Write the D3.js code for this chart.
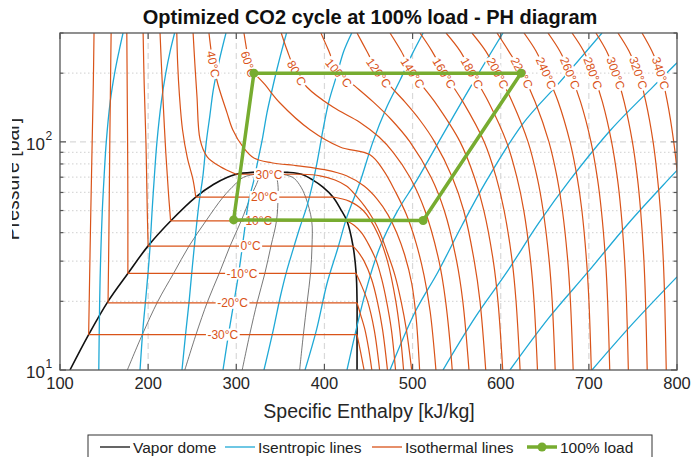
<!DOCTYPE html>
<html>
<head>
<meta charset="utf-8">
<script src="https://cdn.jsdelivr.net/npm/d3@7"></script>
<style>
  body { margin: 0; background: #fff; }
  text { font-family: "Liberation Sans", Arial, Helvetica, sans-serif; }
</style>
</head>
<body>
<svg id="chart" width="693" height="457"></svg>
<script>
// ---- data (h in kJ/kg, P in bar) ----
var xTicks = [100, 200, 300, 400, 500, 600, 700, 800];
var yMajor = [10, 100];
var yMinor = [20, 30, 40, 50, 60, 70, 80, 90, 200, 300];

var vaporDome = [[111.3,10],[132.5,14.3],[154.5,20],[177,26.5],[200,35],[225.5,45],[254,57.3],
  [274,65],[290,70],[300,72.1],[318,73.5],[338,73.8],[358,73.5],[374,72.1],[387,68],[398,63.5],
  [409.7,57.3],[418,51],[425.6,45],[432.4,35],[436,26.5],[437,20],[437,14.3],[437,10]];

var qualityLines = [
  [[176.4,10],[193.4,14.3],[211,20],[228.8,26.5],[246.5,35],[265.5,45],[285.1,57.3],[298.4,65],[308.4,70],[338,73.8]],
  [[241.6,10],[254.3,14.3],[267.5,20],[280.6,26.5],[293,35],[305.5,45],[316.3,57.3],[322.8,65],[326.8,70],[338,73.8]],
  [[306.7,10],[315.2,14.3],[324,20],[332.4,26.5],[339.4,35],[345.6,45],[347.4,57.3],[347.2,65],[345.2,70],[338,73.8]],
  [[371.9,10],[376.1,14.3],[380.5,20],[384.2,26.5],[385.9,35],[385.6,45],[378.6,57.3],[371.6,65],[363.6,70],[338,73.8]]
];

var isentropes = [
  [[144,10],[145,20],[146,30],[148,50],[150,70],[152.5,100],[157,150],[162,200],[167,250],[171.5,300]],
  [[190.8,10],[194,15],[197,20],[200,27],[202,34],[204.5,50],[207,70],[210,100],[215,150],[220,200],[225,250],[230,300]],
  [[238.4,10],[243,15],[246.5,20],[250,28],[254,40],[258,55],[262,70],[266,100],[270,130],[274,170],[281,230],[288.3,300]],
  [[284.9,10],[292,15],[297.5,20],[303,27],[309,40],[314,55],[320,68],[324.6,83],[330,105],[334.8,134],[340,165],[346,207],[352,255],[357,300]],
  [[331.4,10],[342,15],[350,21],[357,27],[364.3,33.6],[372,42],[380,52],[386,64],[391.6,81],[398.4,113],[405,150],[414,196],[422,250],[431,300]],
  [[378,10],[391,15],[403,24],[415,34],[425.6,47],[440,66],[455,100],[470,140],[486,187],[499,240],[512,300]],
  [[425.6,10],[447.2,22.4],[463,34.6],[482.3,49.3],[505,68.1],[533.4,106],[565.1,172.5],[602.6,300]],
  [[474.4,10],[503,18],[528.8,26.9],[556,43],[584.4,68.1],[625,120],[667.3,183.3],[714.9,300]],
  [[534.5,10],[571,17],[607.1,26.9],[643,44],[678.6,68.1],[725,113],[772.7,174.2],[800,222]],
  [[610.5,10],[655,17],[699,26.9],[745,44],[789.8,68.1],[800,75]],
  [[703.6,10],[750,16],[800,25.6]]
];

// subcritical isotherms
var subTemps = [-30, -20, -10, 0, 10, 20, 30];
var satP  = [14.3, 19.7, 26.5, 34.9, 45.0, 57.3, 72.1];
var satHL = [132.5, 154.5, 177, 200, 225.5, 254, 300];
var satHV = [437, 437, 436, 432.4, 425.6, 409.7, 374];
var liquidBranches = [
  [[132.5,14.3],[134.5,40],[136.5,100],[137.8,180],[138.6,300]],
  [[154.5,19.7],[155.5,40],[156.5,100],[157.3,180],[158,300]],
  [[177,26.5],[177,50],[176.7,100],[176.2,180],[175.8,300]],
  [[200,34.9],[199,50],[197.5,100],[195.5,180],[194.3,300]],
  [[225.5,45],[223,60],[220,90],[217,150],[215,220],[213.5,300]],
  [[254,57.3],[251,68],[244.5,85],[239,113],[235.5,160],[233.5,220],[232.5,300]],
  [[300,72.1],[281.5,78],[267,86],[259,102],[255.4,158],[253,220],[251,300]]
];
var vaporBranches = [
  [[437,14.3],[441,12],[445,10]],
  [[437,19.7],[441,17.5],[446,15],[450,12.5],[453.8,10]],
  [[436,26.5],[441,24],[449,20],[456.5,15],[462.6,10]],
  [[432.4,34.9],[438,33],[445,30],[453.5,25],[460,20],[466,15],[471.5,10]],
  [[425.6,45],[434,43],[442,40],[451,35],[459,30],[465,25],[470.5,20],[476,15],[480.7,10]],
  [[409.7,57.3],[428,55],[444,50],[460,40],[471.5,30],[481,20],[485.5,15],[489.8,10]],
  [[374,72.1],[395,71],[412,68],[425,64],[436,58],[446,52],[455,46],[463,40],[471,33],[480,26],[487,20],[493,15],[499,10]]
];

// supercritical isotherms (from 300 bar down to 10 bar)
var superTemps = [40, 60, 80, 100, 120, 140, 160, 180, 200, 220, 240, 260, 280, 300, 320, 340];
var superLines = [
  [[269,300],[271.5,250],[273.6,222],[279.3,178],[289.5,134],[296,113],[307.6,95],[320,85],[340,81],[370,78.5],[400,75.5],[425,71],[445,64],[460,56],[472,48],[482,40],[491,32],[499,24],[504,17],[508,10]],
  [[308.7,300],[312,250],[315,214],[332.6,178],[349.6,148],[383.6,113],[417.7,95],[451.7,87.7],[467,75],[481,60],[493,48],[504,36],[513,26],[520,18],[526.5,10]],
  [[351,300],[358,250],[366.6,207],[380,174],[409.7,142],[440,122],[462,105],[478,90],[497,70],[514,50],[530,30],[537.5,20],[545,10]],
  [[396,300],[405,250],[415,203],[435,175],[455,150],[476,125],[497,100],[521,70],[536,50],[550,30],[557,20],[564,10]],
  [[437,300],[448,250],[460.8,203],[475,175],[491,150],[508,125],[525,100],[545,70],[558,50],[570,30],[576.5,20],[583,10]],
  [[474.4,300],[487,250],[500.3,200],[525,150],[553.9,100],[570.1,70],[580.9,50],[591.6,30],[596.9,20],[602.3,10]],
  [[508.4,300],[522,250],[536,200],[557,150],[581.2,100],[594.8,70],[603.9,50],[613,30],[617.4,20],[622,10]],
  [[538,300],[554,250],[567.7,200],[586,150],[606.6,100],[618.3,70],[626.2,50],[633.9,30],[637.8,20],[641.7,10]],
  [[567.4,300],[583,250],[596.8,200],[613,150],[631,100],[641.3,70],[648.1,50],[655,30],[658.4,20],[661.8,10]],
  [[595.8,300],[609,250],[624.2,200],[639,150],[654.7,100],[663.9,70],[670,50],[676.1,30],[679.1,20],[682.2,10]],
  [[626.4,300],[640,250],[651.8,200],[665.2,150],[678.6,100],[686.7,70],[692.1,50],[697.4,30],[700.1,20],[702.8,10]],
  [[653.6,300],[667,250],[678.7,200],[690.5,150],[702.4,100],[709.5,70],[714.2,50],[719,30],[721.3,20],[723.7,10]],
  [[680.9,300],[694,250],[704.8,200],[715.3,150],[725.8,100],[732.2,70],[736.4,50],[740.6,30],[742.7,20],[744.8,10]],
  [[708,300],[720,250],[730.7,200],[740,150],[749.4,100],[755,70],[758.7,50],[762.5,30],[764.3,20],[766.2,10]],
  [[733,300],[745.5,250],[756.3,200],[764.6,150],[772.9,100],[777.8,70],[781.2,50],[784.5,30],[786.1,20],[787.8,10]],
  [[760.3,300],[771.5,250],[781.6,200],[789,150],[796.3,100],[800.8,70],[803.7,50],[806.7,30],[808.1,20],[809.6,10]]
];

// 100% load cycle
var cycleH = [320, 623, 512, 297, 320];
var cycleP = [200, 200, 45.2, 45.5, 200];

var legendNames = ["Vapor dome", "Isentropic lines", "Isothermal lines", "100% load"];

// ---- layout ----
var W = 693, H = 457;
var plot = { left: 60, right: 677, top: 33, bottom: 370 };
var cOrange = "#d95319", cCyan = "#1fa9d6", cGreen = "#77ac30", cAxis = "#555";

var svg = d3.select("#chart");
var x = d3.scaleLinear().domain([100, 800]).range([plot.left, plot.right]);
var y = d3.scaleLog().domain([10, 300]).range([plot.bottom, plot.top]);

svg.append("rect").attr("width", W).attr("height", H).attr("fill", "#fff");

svg.append("defs").append("clipPath").attr("id", "plotClip")
  .append("rect")
    .attr("x", plot.left).attr("y", plot.top)
    .attr("width", plot.right - plot.left).attr("height", plot.bottom - plot.top);

// grid
var grid = svg.append("g").attr("class", "grid");
grid.selectAll(".vgrid").data(xTicks.slice(1, -1)).enter().append("line")
  .attr("x1", function(d){ return x(d); }).attr("x2", function(d){ return x(d); })
  .attr("y1", plot.top).attr("y2", plot.bottom)
  .attr("stroke", "#d9d9d9").attr("stroke-width", 1.2).attr("stroke-dasharray", "6,4");
grid.append("line")
  .attr("x1", plot.left).attr("x2", plot.right)
  .attr("y1", y(100)).attr("y2", y(100))
  .attr("stroke", "#d9d9d9").attr("stroke-width", 1.2).attr("stroke-dasharray", "6,4");
grid.selectAll(".mgrid").data(yMinor.filter(function(d){ return d < 300; })).enter().append("line")
  .attr("x1", plot.left).attr("x2", plot.right)
  .attr("y1", function(d){ return y(d); }).attr("y2", function(d){ return y(d); })
  .attr("stroke", "#d9d9d9").attr("stroke-width", 1.2).attr("stroke-dasharray", "1.5,2.5");

var lines = svg.append("g").attr("clip-path", "url(#plotClip)");
var curve = d3.line()
  .x(function(d){ return x(d[0]); })
  .y(function(d){ return y(d[1]); })
  .curve(d3.curveCatmullRom.alpha(0.5));
var straight = d3.line()
  .x(function(d){ return x(d[0]); })
  .y(function(d){ return y(d[1]); });

// quality lines in the dome
lines.selectAll(".quality").data(qualityLines).enter().append("path")
  .attr("d", curve).attr("fill", "none")
  .attr("stroke", "#555").attr("stroke-width", 0.8);

// vapor dome
lines.append("path").datum(vaporDome)
  .attr("d", curve).attr("fill", "none")
  .attr("stroke", "#111").attr("stroke-width", 1.6);

// isentropes
lines.selectAll(".isentrope").data(isentropes).enter().append("path")
  .attr("d", curve).attr("fill", "none")
  .attr("stroke", cCyan).attr("stroke-width", 1.3);

// isotherms
var isoG = lines.append("g");
isoG.selectAll(".liq").data(liquidBranches).enter().append("path")
  .attr("d", curve).attr("fill", "none").attr("stroke", cOrange).attr("stroke-width", 1.2);
isoG.selectAll(".vap").data(vaporBranches).enter().append("path")
  .attr("d", curve).attr("fill", "none").attr("stroke", cOrange).attr("stroke-width", 1.2);
isoG.selectAll(".flat").data(subTemps).enter().append("path")
  .attr("d", function(d, i){ return straight([[satHL[i], satP[i]], [satHV[i], satP[i]]]); })
  .attr("fill", "none").attr("stroke", cOrange).attr("stroke-width", 1.2);
var superPaths = isoG.selectAll(".super").data(superLines).enter().append("path")
  .attr("d", curve).attr("fill", "none").attr("stroke", cOrange).attr("stroke-width", 1.2);

// isotherm labels (white box, inline)
var labelG = svg.append("g").attr("clip-path", "url(#plotClip)");
function addLabel(px, py, ang, txt) {
  var g = labelG.append("g").attr("transform", "translate(" + px + "," + py + ") rotate(" + ang + ")");
  var r = g.append("rect").attr("fill", "#fff");
  var t = g.append("text").attr("text-anchor", "middle").attr("dy", "0.36em")
    .attr("font-size", 12).attr("fill", cOrange).text(txt);
  var w = t.node().getComputedTextLength();
  r.attr("x", -w / 2 - 1.5).attr("y", -6).attr("width", w + 3).attr("height", 12);
}
subTemps.forEach(function(t, i){
  var hm = (satHL[i] + satHV[i]) / 2;
  addLabel(x(hm), y(satP[i]), 0, t + "°C");
});
superPaths.each(function(d, i){
  var node = this, L = node.getTotalLength();
  var ty = superTemps[i] < 80 ? 64 : 73;
  var best = 0, bd = 1e9;
  for (var l = 0; l <= L; l += 0.5) {
    var p = node.getPointAtLength(l);
    if (Math.abs(p.y - ty) < bd) { bd = Math.abs(p.y - ty); best = l; }
  }
  var c = node.getPointAtLength(best),
      a = node.getPointAtLength(Math.max(0, best - 4)),
      b = node.getPointAtLength(Math.min(L, best + 4));
  var ang = Math.atan2(b.y - a.y, b.x - a.x) * 180 / Math.PI;
  if (ang > 90) ang -= 180;
  if (ang < -90) ang += 180;
  addLabel(c.x, c.y, ang, superTemps[i] + "°C");
});

// cycle
var cyc = cycleH.map(function(h, i){ return [h, cycleP[i]]; });
var cycG = svg.append("g").attr("clip-path", "url(#plotClip)");
cycG.append("path").datum(cyc).attr("d", straight).attr("fill", "none")
  .attr("stroke", cGreen).attr("stroke-width", 3.5).attr("stroke-linejoin", "round");
cycG.selectAll("circle").data(cyc.slice(0, 4)).enter().append("circle")
  .attr("cx", function(d){ return x(d[0]); }).attr("cy", function(d){ return y(d[1]); })
  .attr("r", 4.5).attr("fill", cGreen);

// axes box and ticks
var ax = svg.append("g");
ax.append("rect").attr("x", plot.left).attr("y", plot.top)
  .attr("width", plot.right - plot.left).attr("height", plot.bottom - plot.top)
  .attr("fill", "none").attr("stroke", cAxis).attr("stroke-width", 1.3);
xTicks.forEach(function(t){
  ax.append("line").attr("x1", x(t)).attr("x2", x(t)).attr("y1", plot.bottom).attr("y2", plot.bottom - 6)
    .attr("stroke", cAxis).attr("stroke-width", 1.2);
  ax.append("line").attr("x1", x(t)).attr("x2", x(t)).attr("y1", plot.top).attr("y2", plot.top + 6)
    .attr("stroke", cAxis).attr("stroke-width", 1.2);
  ax.append("text").attr("x", x(t)).attr("y", 389).attr("text-anchor", "middle")
    .attr("font-size", 16.5).attr("fill", "#262626").text(t);
});
yMajor.concat(yMinor).forEach(function(t){
  var len = yMajor.indexOf(t) >= 0 ? 6 : 3.5;
  ax.append("line").attr("x1", plot.left).attr("x2", plot.left + len).attr("y1", y(t)).attr("y2", y(t))
    .attr("stroke", cAxis).attr("stroke-width", 1.2);
  ax.append("line").attr("x1", plot.right).attr("x2", plot.right - len).attr("y1", y(t)).attr("y2", y(t))
    .attr("stroke", cAxis).attr("stroke-width", 1.2);
});
yMajor.forEach(function(t){
  ax.append("text").attr("x", 45).attr("y", y(t) + 8).attr("text-anchor", "end")
    .attr("font-size", 17).attr("fill", "#262626").text("10");
  ax.append("text").attr("x", 45.5).attr("y", y(t) - 2).attr("font-size", 12)
    .attr("fill", "#262626").text(Math.round(Math.log10(t)));
});

// axis labels
svg.append("text").attr("x", 369).attr("y", 418).attr("text-anchor", "middle")
  .attr("font-size", 19.5).attr("fill", "#262626").text("Specific Enthalpy [kJ/kg]");
svg.append("defs").append("clipPath").attr("id", "ylabClip")
  .append("rect").attr("x", 12).attr("y", 0).attr("width", 40).attr("height", H);
svg.append("g").attr("clip-path", "url(#ylabClip)")
  .append("text").attr("transform", "translate(19,179) rotate(-90)").attr("text-anchor", "middle")
  .attr("font-size", 19.5).attr("fill", "#262626").text("Pressure [bar]");

// title
svg.append("text").attr("x", 370).attr("y", 24).attr("text-anchor", "middle")
  .attr("font-size", 20).attr("font-weight", "bold").attr("fill", "#111")
  .text("Optimized CO2 cycle at 100% load - PH diagram");

// legend
var lg = svg.append("g");
lg.append("rect").attr("x", 88).attr("y", 435).attr("width", 564).attr("height", 26)
  .attr("fill", "#fff").attr("stroke", "#333").attr("stroke-width", 1);
var legendX = [100, 225, 372, 527];
var legendColors = ["#111", cCyan, cOrange, cGreen];
legendNames.forEach(function(n, i){
  var lx = legendX[i];
  lg.append("line").attr("x1", lx).attr("x2", lx + 30).attr("y1", 447).attr("y2", 447)
    .attr("stroke", legendColors[i]).attr("stroke-width", i === 3 ? 3.5 : 1.3);
  if (i === 3) lg.append("circle").attr("cx", lx + 15).attr("cy", 447).attr("r", 4.5).attr("fill", cGreen);
  lg.append("text").attr("x", lx + 33).attr("y", 452.5).attr("font-size", 15.5)
    .attr("fill", "#222").text(n);
});
</script>
</body>
</html>
